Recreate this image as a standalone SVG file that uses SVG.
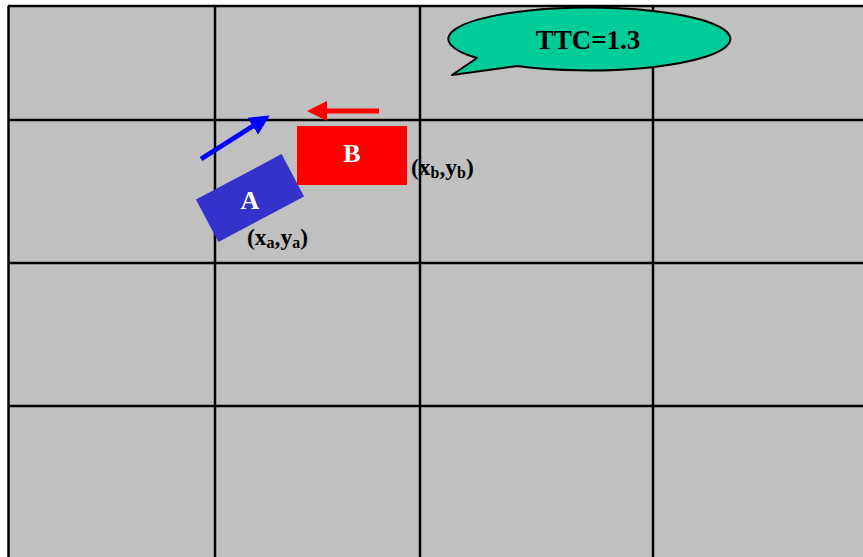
<svg xmlns="http://www.w3.org/2000/svg" width="863" height="557" viewBox="0 0 863 557">
<style>
.grid{stroke:#000;stroke-width:2.5;fill:none}
.lbl{font-family:"Liberation Serif",serif;font-weight:bold;fill:#000;font-size:23.5px}
.sub{font-size:16px}
.wl{font-family:"Liberation Serif",serif;font-weight:bold;fill:#fff;font-size:26px;text-anchor:middle}
</style>
<defs>
<marker id="hb" markerWidth="4" markerHeight="4" refX="1" refY="2" orient="auto" markerUnits="strokeWidth"><path d="M0,0 L4,2 L0,4 Z" fill="#0000FF"/></marker>
<marker id="hr" markerWidth="4" markerHeight="4" refX="1" refY="2" orient="auto" markerUnits="strokeWidth"><path d="M0,0 L4,2 L0,4 Z" fill="#FF0000"/></marker>
</defs>
<rect x="0" y="0" width="863" height="557" fill="#fff"/>
<g id="grid">
<rect x="8" y="6" width="860" height="560" fill="#C0C0C0"/>
<path class="grid" d="M8,6 H863 M8,120 H863 M8,263 H863 M8,406 H863 M8.5,6 V557 M215,6 V557 M420,6 V557 M653,6 V557"/>
</g>
<g id="connectors">
<line x1="201" y1="159" x2="257" y2="123.5" stroke="#0000FF" stroke-width="5" marker-end="url(#hb)"/>
<line x1="379" y1="111" x2="322" y2="111" stroke="#FF0000" stroke-width="5" marker-end="url(#hr)"/>
</g>
<g id="A">
<rect x="-48.5" y="-24" width="97" height="48" fill="#3333CC" transform="translate(250,198) rotate(-28)"/>
<text class="wl" x="250" y="209">A</text>
</g>
<g id="B">
<rect x="297" y="126" width="110" height="59" fill="#FF0000"/>
<text class="wl" x="352" y="162">B</text>
</g>
<g id="labelA">
<text class="lbl" x="247" y="245">(x<tspan class="sub" dy="3">a</tspan><tspan dy="-3">,y</tspan><tspan class="sub" dy="3">a</tspan><tspan dy="-3">)</tspan></text>
</g>
<g id="labelB">
<text class="lbl" x="411" y="175">(x<tspan class="sub" dy="3">b</tspan><tspan dy="-3">,y</tspan><tspan class="sub" dy="3">b</tspan><tspan dy="-3">)</tspan></text>
</g>
<g id="callout">
<path d="M477,58 A141,31.5 0 1 1 517,66 L452,75 Z" fill="#00CC99" stroke="#000" stroke-width="2" stroke-linejoin="round"/>
<text x="588" y="49" font-family="Liberation Serif,serif" font-weight="bold" font-size="27" text-anchor="middle">TTC=1.3</text>
</g>
</svg>
